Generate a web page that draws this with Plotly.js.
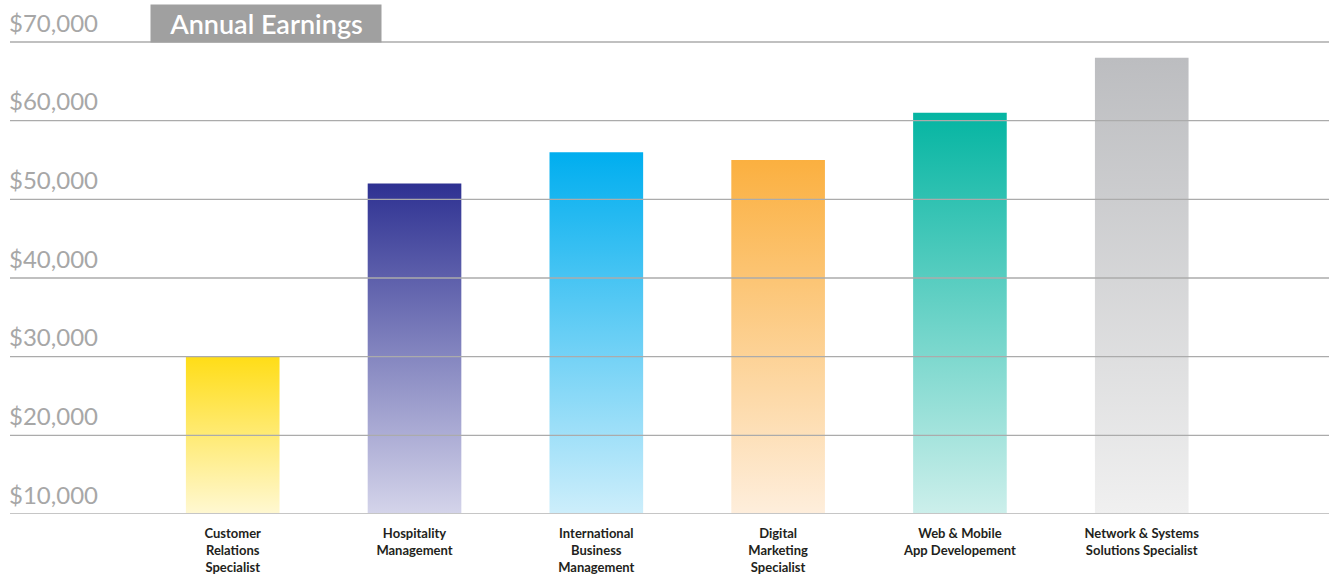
<!DOCTYPE html>
<html>
<head>
<meta charset="utf-8">
<script src="https://cdn.plot.ly/plotly-3.0.1.min.js"></script>
<style>
  html, body { margin: 0; padding: 0; background: #ffffff; }
  #chart { width: 1329px; height: 575px; }
</style>
</head>
<body>
<div id="chart"></div>
<script>
// ---- data ----
const categories = [
  "Customer<br>Relations<br>Specialist",
  "Hospitality<br>Management",
  "International<br>Business<br>Management",
  "Digital<br>Marketing<br>Specialist",
  "Web &amp; Mobile<br>App Developement",
  "Network &amp; Systems<br>Solutions Specialist"
];
const earnings = [30000, 52000, 56000, 55000, 61000, 68000];
const tickValues = [10000, 20000, 30000, 40000, 50000, 60000, 70000];
const tickLabels = ["$10,000", "$20,000", "$30,000", "$40,000", "$50,000", "$60,000", "$70,000"];
const topColors = ["#FFDD17", "#2E3192", "#00AEEF", "#FBB040", "#05B5A2", "#BCBDC0"];
const bottomColors = ["#FFF8D2", "#D4D4EA", "#CDEEFB", "#FEEEDC", "#CCEFEB", "#F0F0F0"];
const chartTitle = "Annual Earnings";

const baseline = tickValues[0];

const trace = {
  type: "bar",
  x: categories,
  y: earnings.map(v => v - baseline),
  base: baseline,
  width: 0.515,
  marker: { color: topColors, line: { width: 0 } },
  hoverinfo: "skip"
};

const gridShapes = tickValues.map((v, i) => ({
  type: "line", xref: "paper", yref: "y",
  x0: 0, x1: 1, y0: v, y1: v,
  layer: "above",
  line: { color: i === 0 ? "#C6C6C6" : "#ABABAB", width: i === 0 ? 2 : 1.3 }
}));

const layout = {
  width: 1329, height: 575,
  margin: { l: 10, r: 0, t: 0, b: 61 },
  paper_bgcolor: "#ffffff", plot_bgcolor: "#ffffff",
  showlegend: false,
  font: { family: "Lato, 'Open Sans', sans-serif" },
  xaxis: {
    type: "category",
    range: [-1.225, 6.03],
    showgrid: false, zeroline: false, showline: false,
    ticks: "",
    ticklabelstandoff: 10,
    tickfont: { family: "Lato, sans-serif", size: 13, color: "#231F20", weight: "bold" },
    fixedrange: true
  },
  yaxis: {
    range: [10000, 75339],
    tickvals: tickValues,
    ticktext: tickLabels,
    ticklabelposition: "inside top",
    ticklabelstandoff: -4,
    ticklabelshift: -2,
    tickfont: { family: "Lato, sans-serif", size: 24, color: "#A7A7A7" },
    showgrid: false, zeroline: false, showline: false,
    ticks: "",
    fixedrange: true
  },
  shapes: gridShapes,
  annotations: [{
    text: chartTitle,
    xref: "paper", yref: "paper",
    x: 0.194, y: 0.9543,
    xanchor: "center", yanchor: "middle",
    showarrow: false,
    width: 230, height: 37,
    borderpad: 0,
    bgcolor: "#A0A0A0",
    font: { family: "Lato, sans-serif", size: 27, color: "#ffffff", weight: 600 }
  }]
};

Plotly.newPlot("chart", [trace], layout, { staticPlot: true, displayModeBar: false }).then(gd => {
  const ns = "http://www.w3.org/2000/svg";
  const svg = gd.querySelector("svg.main-svg");
  let defs = svg.querySelector("defs");
  if (!defs) { defs = document.createElementNS(ns, "defs"); svg.insertBefore(defs, svg.firstChild); }
  topColors.forEach((c, i) => {
    const lg = document.createElementNS(ns, "linearGradient");
    lg.setAttribute("id", "barGrad" + i);
    lg.setAttribute("x1", "0"); lg.setAttribute("y1", "0");
    lg.setAttribute("x2", "0"); lg.setAttribute("y2", "1");
    const s1 = document.createElementNS(ns, "stop");
    s1.setAttribute("offset", "0"); s1.setAttribute("stop-color", c);
    const s2 = document.createElementNS(ns, "stop");
    s2.setAttribute("offset", "1"); s2.setAttribute("stop-color", bottomColors[i]);
    lg.appendChild(s1); lg.appendChild(s2);
    defs.appendChild(lg);
  });
  gd.querySelectorAll(".barlayer .point path").forEach((p, i) => {
    p.style.fill = "url(#barGrad" + i + ")";
  });
});
</script>
</body>
</html>
